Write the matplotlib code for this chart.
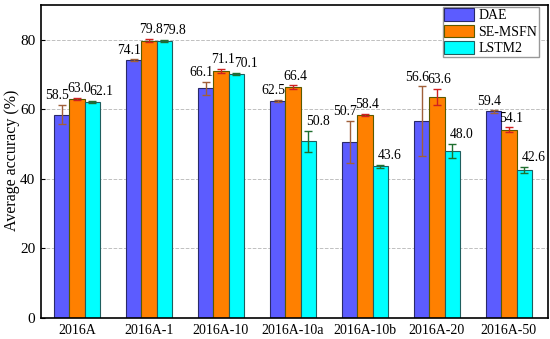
import numpy as np
import matplotlib
matplotlib.use("Agg")
import matplotlib.pyplot as plt

plt.rcParams['font.family'] = ['Liberation Serif', 'DejaVu Serif']

datasets = ['2016A', '2016A-1', '2016A-10', '2016A-10a', '2016A-10b', '2016A-20', '2016A-50']
dae = [58.5, 74.1, 66.1, 62.5, 50.7, 56.6, 59.4]
dae_err = [2.8, 0.3, 1.9, 0.3, 6.1, 10.0, 0.3]
semsfn = [63.0, 79.8, 71.1, 66.4, 58.4, 63.6, 54.1]
semsfn_err = [0.3, 0.5, 0.6, 0.5, 0.4, 2.2, 0.7]
lstm2 = [62.1, 79.8, 70.1, 50.8, 43.6, 48.0, 42.6]
lstm2_err = [0.3, 0.3, 0.3, 3.1, 0.5, 2.0, 0.8]

# name, values, errors, face, edge, errorbar colour, label x-shift
series = [
    ('DAE', dae, dae_err, '#5c5cff', '#2a2a6a', '#a0603a', -0.06),
    ('SE-MSFN', semsfn, semsfn_err, '#ff8000', '#5a5a00', '#d02020', 0.03),
    ('LSTM2', lstm2, lstm2_err, '#00ffff', '#1f5f5f', '#1f6f2f', 0.13),
]

fig = plt.figure(figsize=(5.5, 3.39), dpi=100)
ax = fig.add_axes([0.0745, 0.062, 0.9215, 0.923])

x = np.arange(len(datasets))
w = 0.213
for i, (name, vals, errs, fc, ec, errc, dx) in enumerate(series):
    pos = x + (i - 1) * w
    ax.bar(pos, vals, w, color=fc, edgecolor=ec, linewidth=0.8, label=name, zorder=2)
    ax.errorbar(pos, vals, yerr=errs, fmt='none', ecolor=errc, elinewidth=1.0,
                capsize=3, capthick=1.0, zorder=3)
    for p, v, e in zip(pos, vals, errs):
        ax.text(p + dx, v + e + 0.8, f'{v:.1f}', ha='center', va='bottom', fontsize=9.8)

ax.set_xlim(-0.5, 6.54)
ax.set_ylim(0, 90)
ax.set_yticks([0, 20, 40, 60, 80])
ax.set_xticks(x)
ax.set_xticklabels(datasets)
ax.tick_params(axis='x', length=0, labelsize=10, pad=4)
ax.tick_params(axis='y', labelsize=11, direction='in', length=3, pad=4)
ax.set_ylabel('Average accuracy (%)', fontsize=11.5)
ax.yaxis.set_label_coords(-0.042, 0.505)
ax.yaxis.grid(True, linestyle='--', color='#c0c0c0', linewidth=0.7, zorder=0)
ax.set_axisbelow(True)
for s in ax.spines.values():
    s.set_linewidth(1.2)

leg = ax.legend(loc='upper right', bbox_to_anchor=(0.982, 0.994), fontsize=10,
                handlelength=2.15, handleheight=1.0,
                fancybox=False, framealpha=1, edgecolor='#999999',
                borderpad=0.1, labelspacing=0.18, handletextpad=0.3,
                borderaxespad=0.0)

fig.savefig('out.png', dpi=100)
